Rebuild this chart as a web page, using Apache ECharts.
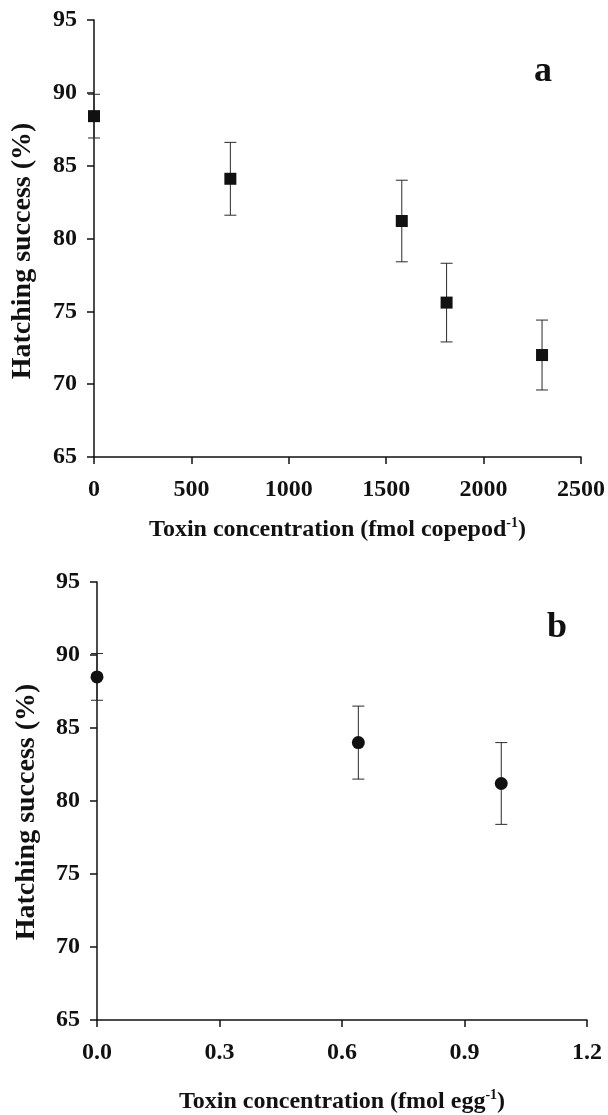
<!DOCTYPE html>
<html>
<head>
<meta charset="utf-8">
<script src="https://cdn.jsdelivr.net/npm/echarts@6/dist/echarts.min.js"></script>
<style>
html,body{margin:0;padding:0;background:#fff;}
#c{width:608px;height:1115px;}
</style>
</head>
<body>
<div id="c"></div>
<script>
// Panel a: toxin per copepod
var xA = [0, 700, 1580, 1810, 2300];
var yA = [88.4, 84.1, 81.2, 75.6, 72.0];
var eA = [1.5, 2.5, 2.8, 2.7, 2.4];
// Panel b: toxin per egg
var xB = [0, 0.64, 0.99];
var yB = [88.5, 84.0, 81.2];
var eB = [1.6, 2.5, 2.8];
// Tick labels
var xTicksA = ['0', '500', '1000', '1500', '2000', '2500'];
var xTicksB = ['0.0', '0.3', '0.6', '0.9', '1.2'];
var yTicks = [65, 70, 75, 80, 85, 90, 95];

var FONT = "'Liberation Serif', 'Times New Roman', serif";
var INK = '#111111';

function errData(xs, ys, es) {
  return xs.map(function (x, i) { return [x, ys[i] - es[i], ys[i] + es[i]]; });
}
function errRender(params, api) {
  var x = api.value(0), lo = api.value(1), hi = api.value(2);
  var pLo = api.coord([x, lo]), pHi = api.coord([x, hi]);
  var w = 6;
  var st = { stroke: '#2a2a2a', lineWidth: 1 };
  return {
    type: 'group',
    children: [
      { type: 'line', shape: { x1: pHi[0], y1: pHi[1], x2: pLo[0], y2: pLo[1] }, style: st },
      { type: 'line', shape: { x1: pHi[0] - w, y1: pHi[1], x2: pHi[0] + w, y2: pHi[1] }, style: st },
      { type: 'line', shape: { x1: pLo[0] - w, y1: pLo[1], x2: pLo[0] + w, y2: pLo[1] }, style: st }
    ]
  };
}

var axisLine = { show: true, onZero: false, lineStyle: { color: INK, width: 1.5 } };
var axisTick = { show: true, inside: false, length: 7, lineStyle: { color: INK, width: 1.5 } };
var labelStyle = { fontFamily: FONT, fontWeight: 'bold', fontSize: 24, color: INK };

function xName(base) {
  return '{m|' + base + '}{s|-1}{m|)}';
}
var nameRich = {
  m: { fontFamily: FONT, fontWeight: 'bold', fontSize: 24, color: INK, lineHeight: 28 },
  s: { fontFamily: FONT, fontWeight: 'bold', fontSize: 14, color: INK, verticalAlign: 'top', lineHeight: 28 }
};

function tickText(list, step) {
  return function (v) {
    var idx = Math.round(v / step);
    return list[idx] !== undefined ? list[idx] : String(v);
  };
}

var yAxisCommon = function (gi) {
  return {
    gridIndex: gi, type: 'value', min: yTicks[0], max: yTicks[yTicks.length - 1], interval: 5,
    axisLine: axisLine, axisTick: axisTick, splitLine: { show: false },
    axisLabel: Object.assign({ margin: 17 }, labelStyle)
  };
};

var option = {
  animation: false,
  backgroundColor: '#fff',
  grid: [
    { left: 94, right: 25, top: 20, height: 437 },
    { left: 97, right: 21, top: 582, height: 438 }
  ],
  xAxis: [
    {
      gridIndex: 0, type: 'value', min: 0, max: 2500, interval: 500,
      axisLine: axisLine, axisTick: axisTick, splitLine: { show: false },
      axisLabel: Object.assign({ margin: 21, formatter: tickText(xTicksA, 500) }, labelStyle),
      name: xName('Toxin concentration (fmol copepod'), nameLocation: 'middle', nameGap: 59,
      nameTextStyle: { rich: nameRich }
    },
    {
      gridIndex: 1, type: 'value', min: 0, max: 1.2, interval: 0.3,
      axisLine: axisLine, axisTick: axisTick, splitLine: { show: false },
      axisLabel: Object.assign({ margin: 21, formatter: tickText(xTicksB, 0.3) }, labelStyle),
      name: xName('Toxin concentration (fmol egg'), nameLocation: 'middle', nameGap: 68,
      nameTextStyle: { rich: nameRich }
    }
  ],
  yAxis: [yAxisCommon(0), yAxisCommon(1)],
  graphic: [
    { type: 'text', x: 23, y: 251, rotation: Math.PI / 2,
      style: { text: 'Hatching success (%)', font: 'bold 28px ' + FONT, fill: INK, textAlign: 'center', textVerticalAlign: 'middle' } },
    { type: 'text', x: 27, y: 812, rotation: Math.PI / 2,
      style: { text: 'Hatching success (%)', font: 'bold 28px ' + FONT, fill: INK, textAlign: 'center', textVerticalAlign: 'middle' } },
    { type: 'text', x: 543, y: 72,
      style: { text: 'a', font: 'bold 36px ' + FONT, fill: INK, textAlign: 'center', textVerticalAlign: 'middle' } },
    { type: 'text', x: 557, y: 628,
      style: { text: 'b', font: 'bold 36px ' + FONT, fill: INK, textAlign: 'center', textVerticalAlign: 'middle' } }
  ],
  series: [
    { type: 'custom', xAxisIndex: 0, yAxisIndex: 0, clip: false, z: 2,
      renderItem: errRender, data: errData(xA, yA, eA) },
    { type: 'scatter', xAxisIndex: 0, yAxisIndex: 0, symbol: 'rect', symbolSize: 12, z: 3,
      itemStyle: { color: INK, opacity: 1 }, data: xA.map(function (x, i) { return [x, yA[i]]; }) },
    { type: 'custom', xAxisIndex: 1, yAxisIndex: 1, clip: false, z: 2,
      renderItem: errRender, data: errData(xB, yB, eB) },
    { type: 'scatter', xAxisIndex: 1, yAxisIndex: 1, symbol: 'circle', symbolSize: 13, z: 3,
      itemStyle: { color: INK, opacity: 1 }, data: xB.map(function (x, i) { return [x, yB[i]]; }) }
  ]
};

var chart = echarts.init(document.getElementById('c'), null, { renderer: 'canvas' });
chart.setOption(option);
</script>
</body>
</html>
